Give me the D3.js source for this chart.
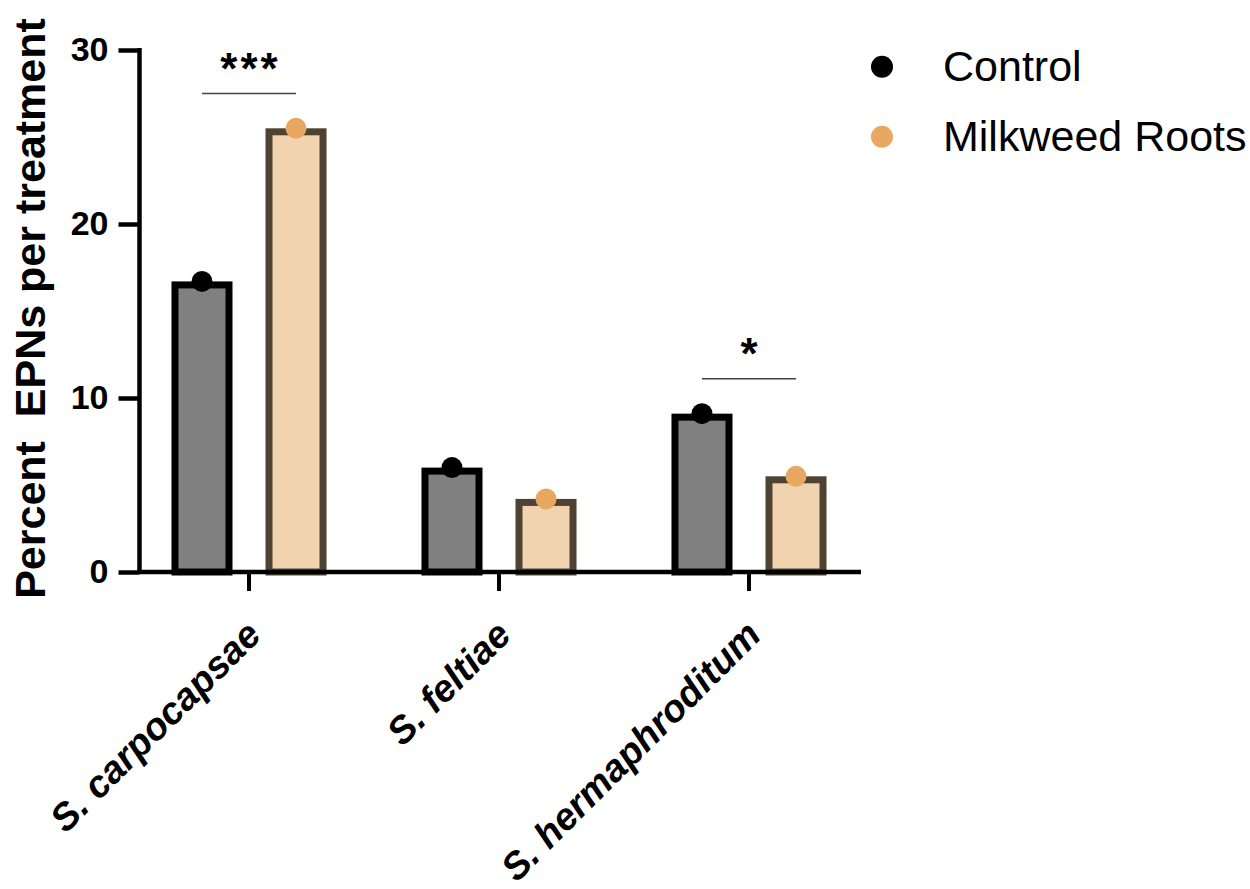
<!DOCTYPE html>
<html>
<head>
<meta charset="utf-8">
<script src="https://cdn.jsdelivr.net/npm/d3@7"></script>
<style>
  body { margin: 0; background: #fff; }
  svg text { font-family: "Liberation Sans", Arial, sans-serif; }
</style>
</head>
<body>
<div id="chart"></div>
<script>
// Data
const species = ["S. carpocapsae", "S. feltiae", "S. hermaphroditum"];
const treatments = ["Control", "Milkweed Roots"];
const controlValues = [16.7, 6.0, 9.1];
const milkweedValues = [25.5, 4.2, 5.5];
const yTicks = [0, 10, 20, 30];
const significance = [
  { species: "S. carpocapsae", label: "***" },
  { species: "S. hermaphroditum", label: "*" }
];

const width = 1250;
const height = 889;
const margin = { top: 50, left: 139.5, bottom: 317, right: 389 };

const fills = { "Control": "#808080", "Milkweed Roots": "#f2d3af" };
const strokes = { "Control": "#000000", "Milkweed Roots": "#4e4332" };
const dotColors = { "Control": "#000000", "Milkweed Roots": "#e8a862" };

const rows = species.map((s, i) => ({
  species: s,
  values: [
    { treatment: "Control", value: controlValues[i] },
    { treatment: "Milkweed Roots", value: milkweedValues[i] }
  ]
}));

const svg = d3.select("#chart")
  .append("svg")
  .attr("width", width)
  .attr("height", height);

const y0 = height - margin.bottom; // 572
const xEnd = 861;

// Scales
const yScale = d3.scaleLinear()
  .domain([0, 30])
  .range([y0, margin.top]);

const xScale = d3.scaleBand()
  .domain(species)
  .range([124, 874])
  .padding(0);

const xSub = d3.scaleBand()
  .domain(treatments)
  .range([0, xScale.bandwidth()])
  .paddingInner(0.351)
  .paddingOuter(0.505);

const sw = 7;

// Bars
const groups = svg.selectAll(".grp")
  .data(rows)
  .enter()
  .append("g")
  .attr("class", "grp")
  .attr("transform", (d) => `translate(${xScale(d.species)},0)`);

groups.selectAll("rect")
  .data((d) => d.values)
  .enter()
  .append("rect")
  .attr("x", (d) => xSub(d.treatment) + sw / 2)
  .attr("y", (d) => yScale(d.value) + sw / 2)
  .attr("width", xSub.bandwidth() - sw)
  .attr("height", (d) => y0 - yScale(d.value) - sw / 2)
  .attr("fill", (d) => fills[d.treatment])
  .attr("stroke", (d) => strokes[d.treatment])
  .attr("stroke-width", sw);

// Mean dots
groups.selectAll("circle")
  .data((d) => d.values)
  .enter()
  .append("circle")
  .attr("cx", (d) => xSub(d.treatment) + xSub.bandwidth() / 2)
  .attr("cy", (d) => yScale(d.value))
  .attr("r", 10.5)
  .attr("fill", (d) => dotColors[d.treatment]);

// Y axis
const yAxis = svg.append("g")
  .attr("transform", `translate(${margin.left},0)`)
  .call(d3.axisLeft(yScale).tickValues(yTicks).tickSize(21).tickSizeOuter(0).tickPadding(10));
yAxis.select(".domain")
  .attr("stroke", "#000")
  .attr("stroke-width", 4.5)
  .attr("d", `M0,${yScale(30) - 2}V${y0 + 2}`);
yAxis.selectAll(".tick line").attr("stroke", "#000").attr("stroke-width", 4.5);
yAxis.selectAll(".tick text")
  .attr("font-size", "34px")
  .attr("font-weight", "bold")
  .attr("fill", "#000")
  .style("font-family", "'Liberation Sans', Arial, sans-serif");

// X axis
svg.append("line")
  .attr("x1", margin.left)
  .attr("x2", xEnd)
  .attr("y1", y0)
  .attr("y2", y0)
  .attr("stroke", "#000")
  .attr("stroke-width", 4.5);

const xAxis = svg.append("g")
  .attr("transform", `translate(0,${y0})`)
  .call(d3.axisBottom(xScale).tickSize(19).tickSizeOuter(0).tickFormat(""));
xAxis.select(".domain").remove();
xAxis.selectAll(".tick line").attr("stroke", "#000").attr("stroke-width", 4);

// Category labels, rotated
svg.selectAll(".xlab")
  .data(species)
  .enter()
  .append("text")
  .attr("class", "xlab")
  .attr("transform", (d) =>
    `translate(${xScale(d) + xScale.bandwidth() / 2 + 14},${y0 + 65}) rotate(-45)`)
  .attr("text-anchor", "end")
  .attr("font-size", "38px")
  .attr("font-weight", "bold")
  .attr("font-style", "italic")
  .text((d) => d);

// Y axis title
svg.append("text")
  .attr("transform", `translate(45,${(15 + 602) / 2}) rotate(-90)`)
  .attr("text-anchor", "middle")
  .attr("font-size", "43px")
  .attr("font-weight", "bold")
  .style("white-space", "pre")
  .text("Percent  EPNs per treatment");

// Significance brackets
significance.forEach((s) => {
  const row = rows.find((r) => r.species === s.species);
  const top = d3.max(row.values, (d) => d.value) + 2;
  const yy = yScale(top);
  const xa = xScale(s.species) + xSub("Control") + xSub.bandwidth() / 2;
  const xb = xScale(s.species) + xSub("Milkweed Roots") + xSub.bandwidth() / 2;
  svg.append("line")
    .attr("x1", xa)
    .attr("x2", xb)
    .attr("y1", yy)
    .attr("y2", yy)
    .attr("stroke", "#444")
    .attr("stroke-width", 1.5);
  svg.append("text")
    .attr("x", (xa + xb) / 2 + 1.5)
    .attr("y", yy - 10)
    .attr("text-anchor", "middle")
    .attr("font-size", "44px")
    .attr("font-weight", "bold")
    .attr("letter-spacing", "3px")
    .text(s.label);
});

// Legend
const legend = svg.append("g").attr("transform", "translate(882,66.7)");
treatments.forEach((t, i) => {
  const item = legend.append("g").attr("transform", `translate(0,${i * 70})`);
  item.append("circle")
    .attr("r", 11)
    .attr("fill", dotColors[t]);
  item.append("text")
    .attr("x", 61)
    .attr("y", 14.5)
    .attr("font-size", "43px")
    .attr("fill", "#000")
    .text(t);
});
</script>
</body>
</html>
